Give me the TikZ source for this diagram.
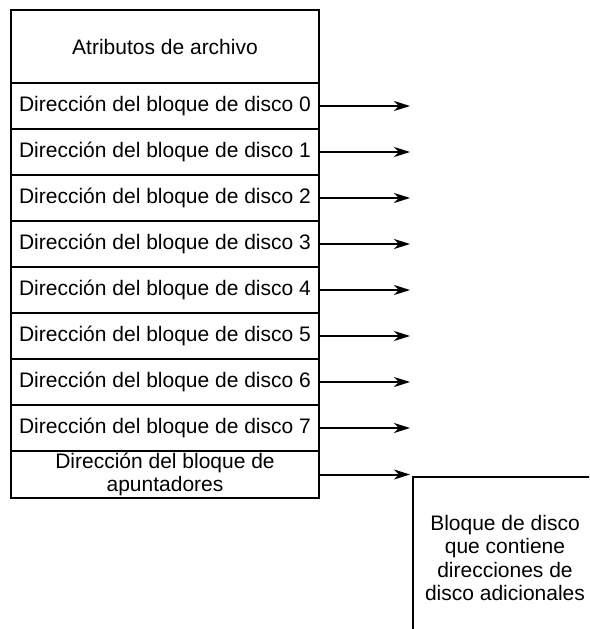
\documentclass[tikz,border=0pt]{standalone}
\usepackage{fontspec}
\setmainfont{Liberation Sans}
\usetikzlibrary{arrows.meta}
\begin{document}
\begin{tikzpicture}[x=1pt, y=-1pt, line width=2pt,
    every node/.style={font=\fontsize{21}{22.5}\selectfont, inner sep=0pt, outer sep=0pt},
    cell/.style={draw, minimum width=308pt, minimum height=46pt, align=center},
    ptr/.style={-{Stealth[length=16pt, width=10pt, inset=5pt]}}]
  \useasboundingbox (0,0) rectangle (589,629);
  \clip (0,0) rectangle (589,629);
  \node[cell, minimum height=73pt] (attr) at (165,46.5) {Atributos de archivo};
  \foreach \i in {0,...,7} {
    \node[cell] (d\i) at (165,106+46*\i) {Dirección del bloque de disco \i};
    \coordinate (t\i) at (410,106+46*\i);
    \draw[ptr] (d\i.east) -- (t\i);
  }
  \node[cell, minimum height=47pt] (apunt) at (165,474.5) {Dirección del bloque de\\apuntadores};
  \node[draw, minimum width=184pt, minimum height=162pt, align=center,
    font=\fontsize{21}{23.5}\selectfont] (extra) at (505,558)
    {Bloque de disco\\que contiene\\direcciones de\\disco adicionales};
  \draw[ptr, shorten >=3pt] (apunt.east) -- (apunt.east -| extra.west);
\end{tikzpicture}
\end{document}
